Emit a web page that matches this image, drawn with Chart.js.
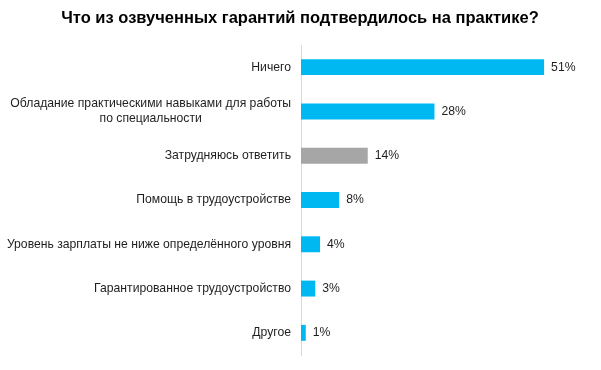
<!DOCTYPE html>
<html><head><meta charset="utf-8">
<script src="https://cdn.jsdelivr.net/npm/chart.js@4/dist/chart.umd.min.js"></script>
<style>html,body{margin:0;padding:0;background:#fff}#wrap{width:601px;height:370px;position:relative}</style>
</head><body><div id="wrap"><canvas id="c"></canvas></div>
<script>
const titleText = 'Что из озвученных гарантий подтвердилось на практике?';
const categories = [
  ['Ничего'],
  ['Обладание практическими навыками для работы', 'по специальности'],
  ['Затрудняюсь ответить'],
  ['Помощь в трудоустройстве'],
  ['Уровень зарплаты не ниже определённого уровня'],
  ['Гарантированное трудоустройство'],
  ['Другое']
];
const values = [51, 28, 14, 8, 4, 3, 1];
const barColors = ['#00B8F1','#00B8F1','#A6A6A6','#00B8F1','#00B8F1','#00B8F1','#00B8F1'];

const FONT = '"Liberation Sans", Arial, sans-serif';

const customText = {
  id: 'customText',
  afterDraw(chart) {
    const ctx = chart.ctx;
    const area = chart.chartArea;
    const y = chart.scales.y;
    ctx.save();
    // title
    ctx.font = 'bold 16.5px ' + FONT;
    ctx.fillStyle = '#000';
    ctx.textAlign = 'center';
    ctx.textBaseline = 'middle';
    ctx.fillText(titleText, 300, 18);
    // category labels
    ctx.font = '12.2px ' + FONT;
    ctx.fillStyle = '#1e1e1e';
    const lh = 15;
    categories.forEach((lines, i) => {
      const cy = y.getPixelForValue(i);
      const w = Math.max(...lines.map(l => ctx.measureText(l).width));
      const right = area.left - 10;
      const cx = right - w / 2;
      ctx.textAlign = 'center';
      lines.forEach((l, j) => {
        const ly = cy + (j - (lines.length - 1) / 2) * lh;
        ctx.fillText(l, cx, ly);
      });
    });
    // value labels
    const meta = chart.getDatasetMeta(0);
    ctx.textAlign = 'left';
    meta.data.forEach((bar, i) => {
      ctx.fillText(values[i] + '%', bar.x + 7, bar.y);
    });
    ctx.restore();
  }
};

new Chart(document.getElementById('c'), {
  type: 'bar',
  data: {
    labels: categories,
    datasets: [{ data: values, backgroundColor: barColors, borderWidth: 0,
      categoryPercentage: 1, barPercentage: 0.36 }]
  },
  options: {
    indexAxis: 'y',
    responsive: true,
    maintainAspectRatio: false,
    animation: false,
    layout: { padding: { top: 45, bottom: 15, left: 0, right: 14 } },
    plugins: { legend: { display: false }, tooltip: { enabled: false }, title: { display: false } },
    scales: {
      x: { display: false, min: 0, max: 60 },
      y: {
        afterFit(s) { s.width = 301; },
        ticks: { display: false },
        grid: { display: false, drawTicks: false },
        border: { display: true, color: '#D9D9D9', width: 1 }
      }
    }
  },
  plugins: [customText]
});
</script>
</body></html>
